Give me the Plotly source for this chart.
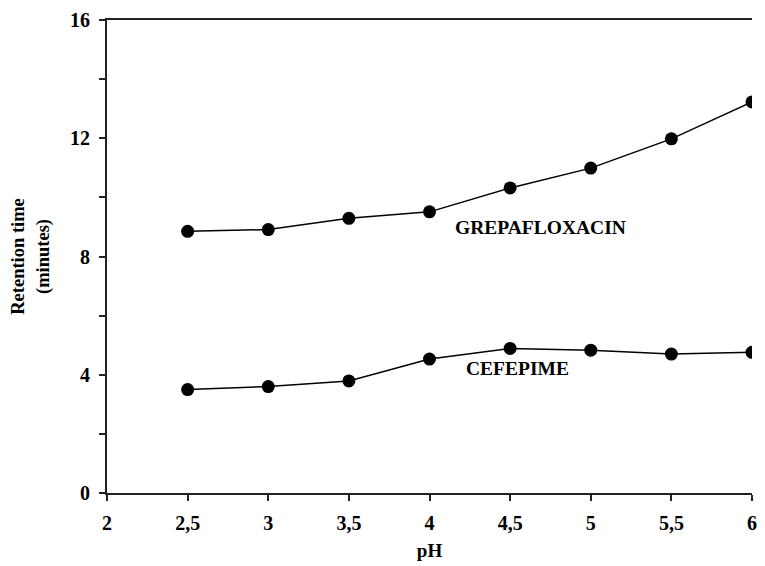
import plotly.graph_objects as go

ph = [2.5, 3, 3.5, 4, 4.5, 5, 5.5, 6]
grepafloxacin = [8.85, 8.91, 9.29, 9.51, 10.32, 10.99, 11.98, 13.23]
cefepime = [3.50, 3.60, 3.79, 4.53, 4.89, 4.83, 4.70, 4.76]
x_ticks = [2, 2.5, 3, 3.5, 4, 4.5, 5, 5.5, 6]
x_labels = ["2", "2,5", "3", "3,5", "4", "4,5", "5", "5,5", "6"]
y_ticks = [0, 4, 8, 12, 16]

FONT = "Liberation Serif, Times New Roman, serif"

fig = go.Figure()
for name, ys in [("GREPAFLOXACIN", grepafloxacin), ("CEFEPIME", cefepime)]:
    fig.add_trace(go.Scatter(
        x=ph, y=ys, mode="lines+markers", name=name,
        line=dict(color="black", width=1.5),
        marker=dict(color="black", size=13),
        showlegend=False,
    ))

fig.add_annotation(x=4.686, y=8.98, text="GREPAFLOXACIN", showarrow=False,
                   font=dict(family=FONT, size=19.5, color="black", weight="bold"))
fig.add_annotation(x=4.545, y=4.22, text="CEFEPIME", showarrow=False,
                   font=dict(family=FONT, size=19.5, color="black", weight="bold"))

fig.update_layout(
    width=765, height=566,
    margin=dict(l=107, r=8, t=20, b=72),
    plot_bgcolor="white", paper_bgcolor="white",
    font=dict(family=FONT, color="black"),
)
fig.update_xaxes(
    range=[2, 6], tickvals=x_ticks, ticktext=x_labels,
    showgrid=False, zeroline=False,
    showline=True, linecolor="#222", linewidth=2, mirror=True,
    ticks="outside", ticklen=6, tickwidth=1.5, tickcolor="#222",
    ticklabelstandoff=5,
    tickfont=dict(family=FONT, size=20, color="black", weight="bold"),
    title=dict(text="pH", font=dict(family=FONT, size=19, weight="bold"), standoff=11),
)
fig.update_yaxes(
    range=[0, 16], tickvals=y_ticks,
    showgrid=False, zeroline=False,
    showline=True, linecolor="#222", linewidth=2,
    ticks="outside", ticklen=6, tickwidth=1.5, tickcolor="#222",
    ticklabelstandoff=5,
    minor=dict(dtick=2, ticks="outside", ticklen=6, tickwidth=1.5, tickcolor="#222", showgrid=False),
    tickfont=dict(family=FONT, size=20, color="black", weight="bold"),
    title=dict(text="Retention time<br>(minutes)", font=dict(family=FONT, size=18.5, weight="bold"), standoff=16),
)

fig.write_html("out.html")
